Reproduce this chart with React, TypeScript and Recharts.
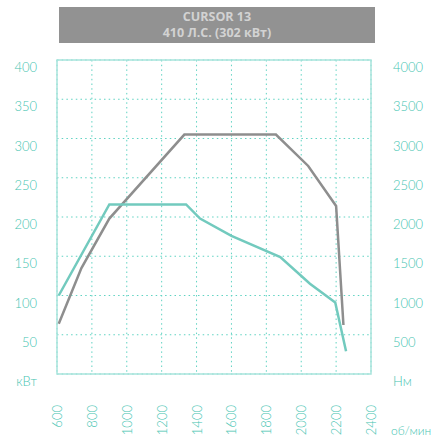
import React from 'react'
import { LineChart, Line, XAxis, YAxis, CartesianGrid, ReferenceArea } from 'recharts'

const rpmTicks = [600, 800, 1000, 1200, 1400, 1600, 1800, 2000, 2200, 2400]
const kwTicks = [0, 50, 100, 150, 200, 250, 300, 350, 400]
const nmTicks = [0, 500, 1000, 1500, 2000, 2500, 3000, 3500, 4000]

// power curve (kW), teal
const powerRpm = [610, 900, 1340, 1420, 1600, 1880, 2050, 2195, 2257]
const powerKw = [100, 216, 216, 198, 176, 149, 115, 91, 29]

// torque curve (Nm), gray
const torqueRpm = [610, 740, 900, 1330, 1855, 2040, 2200, 2242]
const torqueNm = [640, 1350, 1980, 3050, 3050, 2650, 2140, 624]

const TEAL = "#45c4b1"
const FONT = "Lato, 'Open Sans', sans-serif"

const buildRows = () => {
  const map: Record<number, any> = {}
  powerRpm.forEach((r, i) => { map[r] = { ...(map[r] || { rpm: r }), power: powerKw[i] } })
  torqueRpm.forEach((r, i) => { map[r] = { ...(map[r] || { rpm: r }), torque: torqueNm[i] } })
  return Object.values(map).sort((a: any, b: any) => a.rpm - b.rpm)
}

const data = buildRows()

const YTick = ({ x, y, payload, textAnchor, unit }: any) => (
  <text x={x} y={y + 7} textAnchor={textAnchor} dominantBaseline="central"
    fill={TEAL} fontSize={13} fontWeight={300} fontFamily={FONT}>
    {payload.value === 0 ? unit : payload.value}
  </text>
)

const XTick = ({ x, y, payload }: any) => (
  <text x={x} y={y} transform={`rotate(-90, ${x}, ${y})`} textAnchor="end" dominantBaseline="central"
    fill={TEAL} fontSize={13} fontWeight={300} fontFamily={FONT}>
    {payload.value}
  </text>
)

const titleLine: React.CSSProperties = {
  position: 'absolute', left: 0, width: '100%', textAlign: 'center', lineHeight: '14px', whiteSpace: 'nowrap'
}

const App = () => {
  return (
    <div style={{ position: 'relative', width: 435, height: 437, background: '#fff', fontFamily: FONT }}>
      <style>{'body{margin:0}'}</style>
      <div style={{
        position: 'absolute', left: 59, top: 7, width: 316, height: 36, background: '#929292',
        color: '#d2d2d2', fontWeight: 700, fontSize: 12.5, fontFamily: "'Open Sans', sans-serif"
      }}>
        <div style={{ ...titleLine, top: 3 }}>CURSOR 13</div>
        <div style={{ ...titleLine, top: 19 }}>410 Л.С. (302 кВт)</div>
      </div>
      <LineChart width={435} height={437} data={data} margin={{ top: 60, right: 0, left: 0, bottom: 3 }}>
        <CartesianGrid yAxisId="kw" stroke="#5fd3c2" strokeDasharray="1.5 3.2" />
        <XAxis dataKey="rpm" type="number" domain={[600, 2400]} ticks={rpmTicks} height={60}
          axisLine={false} tickLine={false} tickSize={0} tickMargin={31} tick={<XTick />} interval={0} />
        <YAxis yAxisId="kw" orientation="left" domain={[0, 400]} ticks={kwTicks} width={57}
          axisLine={false} tickLine={false} tickSize={0} tickMargin={20} tick={<YTick unit="кВт" />} interval={0} />
        <YAxis yAxisId="nm" orientation="right" domain={[0, 4000]} ticks={nmTicks} width={64}
          axisLine={false} tickLine={false} tickSize={0} tickMargin={22} tick={<YTick unit="Нм" />} interval={0} />
        <ReferenceArea yAxisId="kw" x1={600} x2={2400} y1={0} y2={400} fill="none" fillOpacity={0}
          stroke="#a8e4dc" strokeWidth={1.5} />
        <Line yAxisId="nm" dataKey="torque" stroke="#8e8e8e" strokeWidth={2.5} dot={false}
          connectNulls isAnimationActive={false} />
        <Line yAxisId="kw" dataKey="power" stroke="#72cabe" strokeWidth={2.5} dot={false}
          connectNulls isAnimationActive={false} />
      </LineChart>
      <div style={{
        position: 'absolute', left: 391, top: 424, color: TEAL, fontSize: 12, fontWeight: 300,
        fontFamily: FONT, whiteSpace: 'nowrap', lineHeight: '14px'
      }}>
        об/мин
      </div>
    </div>
  )
}

export default App
